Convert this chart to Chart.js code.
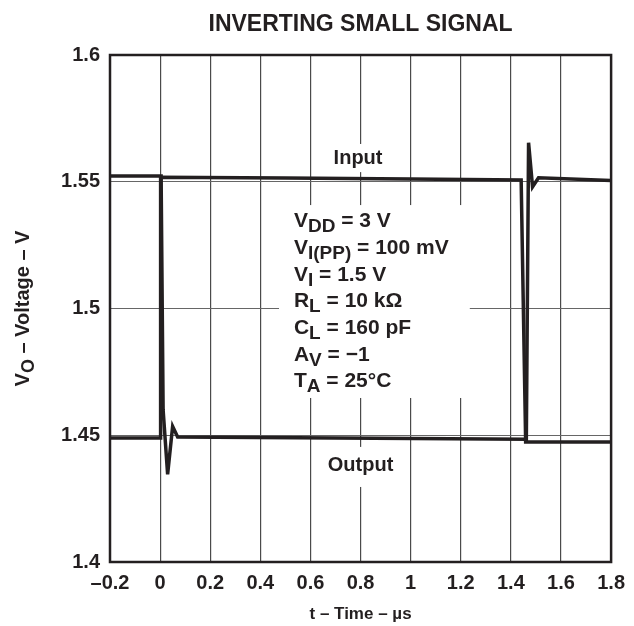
<!DOCTYPE html>
<html><head><meta charset="utf-8">
<script src="https://cdn.jsdelivr.net/npm/chart.js@4/dist/chart.umd.min.js"></script>
<style>html,body{margin:0;padding:0;background:#fff}</style>
</head><body>
<canvas id="c" width="634" height="626"></canvas>
<script>
// ---- data ----
const inputTime   = [-0.2, 0.000, 0.002, 0.5, 1.0, 1.441, 1.459, 1.8];
const inputVolts  = [1.4489, 1.4489, 1.5518, 1.5515, 1.5511, 1.5507, 1.4473, 1.4473];
const outputTime  = [-0.2, 0.004, 0.012, 0.030, 0.050, 0.070, 0.7, 1.4617, 1.4706, 1.4865, 1.5103, 1.8];
const outputVolts = [1.5523, 1.5523, 1.4600, 1.4346, 1.4535, 1.4493, 1.4489, 1.4484, 1.5654, 1.5480, 1.5516, 1.5505];
const xTickValues = [-0.2, 0, 0.2, 0.4, 0.6, 0.8, 1.0, 1.2, 1.4, 1.6, 1.8];
const yTickValues = [1.4, 1.45, 1.5, 1.55, 1.6];
const conditions = [
  [{t:'V'},{t:'DD',sub:true},{t:' = 3 V'}],
  [{t:'V'},{t:'I(PP)',sub:true},{t:' = 100 mV'}],
  [{t:'V'},{t:'I',sub:true},{t:' = 1.5 V'}],
  [{t:'R'},{t:'L',sub:true},{t:' = 10 k\u03A9'}],
  [{t:'C'},{t:'L',sub:true},{t:' = 160 pF'}],
  [{t:'A'},{t:'V',sub:true},{t:' = \u22121'}],
  [{t:'T'},{t:'A',sub:true},{t:' = 25\u00B0C'}]
];
const titleText = 'INVERTING SMALL SIGNAL';
const xTitle = [{t:'t \u2013 Time \u2013 \u00B5s'}];
const yTitle = [{t:'V'},{t:'O',sub:true},{t:' \u2013 Voltage \u2013 V'}];

const FONT = '"Liberation Sans", Arial, Helvetica, sans-serif';
const INK = '#231f20';

function toPts(xs, ys){ return xs.map((x,i)=>({x:x, y:ys[i]})); }
function fmt(v, d){ return String(parseFloat(v.toFixed(d))).replace('-', '\u2013'); }

function richWidth(ctx, parts, size, subSize){
  let w = 0;
  parts.forEach(p=>{ ctx.font = 'bold '+(p.sub?subSize:size)+'px '+FONT; w += ctx.measureText(p.t).width; });
  return w;
}
function drawRich(ctx, parts, x, y, size, subSize, align){
  let w = richWidth(ctx, parts, size, subSize);
  let cx = align==='center' ? x - w/2 : x;
  ctx.textAlign = 'left';
  ctx.textBaseline = 'alphabetic';
  parts.forEach(p=>{
    ctx.font = 'bold '+(p.sub?subSize:size)+'px '+FONT;
    ctx.fillText(p.t, cx, y + (p.sub?5:0));
    cx += ctx.measureText(p.t).width;
  });
}

const overlay = {
  id:'overlay',
  beforeDatasetsDraw(chart){
    const ctx = chart.ctx, xs = chart.scales.x, ys = chart.scales.y;
    const X = v=>xs.getPixelForValue(v), Y = v=>ys.getPixelForValue(v);
    ctx.save();
    ctx.fillStyle = '#fff';
    // white backgrounds for annotation and labels
    ctx.fillRect(X(0.4746), Y(1.5408), X(1.236)-X(0.4746), Y(1.4647)-Y(1.5408));
    ctx.fillRect(X(0.673), Y(1.5649), X(0.903)-X(0.673), Y(1.5538)-Y(1.5649));
    ctx.fillRect(X(0.653), Y(1.4454), X(0.951)-X(0.653), Y(1.4296)-Y(1.4454));
    ctx.fillStyle = INK;
    conditions.forEach((line,i)=>{
      drawRich(ctx, line, X(0.5341), Y(1.5321 - i*0.01053), 21, 19, 'left');
    });
    drawRich(ctx, [{t:'Input'}], X(0.79), Y(1.5570), 20, 18, 'center');
    drawRich(ctx, [{t:'Output'}], X(0.80), Y(1.4359), 20, 18, 'center');
    ctx.restore();
  },
  afterDatasetsDraw(chart){
    const ctx = chart.ctx, a = chart.chartArea;
    ctx.save();
    ctx.strokeStyle = INK; ctx.lineWidth = 2.5;
    ctx.strokeRect(a.left, a.top, a.right-a.left, a.bottom-a.top);
    ctx.restore();
  },
  afterDraw(chart){
    const ctx = chart.ctx, a = chart.chartArea;
    const cx = (a.left+a.right)/2, cy = (a.top+a.bottom)/2;
    ctx.save();
    ctx.fillStyle = INK;
    drawRich(ctx, [{t:titleText}], cx, 31, 23, 23, 'center');
    drawRich(ctx, xTitle, cx, 619, 17, 16, 'center');
    ctx.translate(29, cy);
    ctx.rotate(-Math.PI/2);
    drawRich(ctx, yTitle, 0, 0, 20, 18, 'center');
    ctx.restore();
  }
};

new Chart(document.getElementById('c'), {
  type:'line',
  data:{ datasets:[
    {label:'Input', data:toPts(inputTime, inputVolts), borderColor:INK, borderWidth:3.5, pointRadius:0, tension:0, fill:false},
    {label:'Output', data:toPts(outputTime, outputVolts), borderColor:INK, borderWidth:3.5, pointRadius:0, tension:0, fill:false}
  ]},
  options:{
    responsive:false, animation:false,
    layout:{padding:{top:55, right:20, left:0, bottom:0}},
    plugins:{legend:{display:false}, title:{display:false}, tooltip:{enabled:false}},
    scales:{
      x:{ type:'linear', min:-0.2, max:1.8,
        afterBuildTicks(s){ s.ticks = xTickValues.map(v=>({value:v})); },
        afterFit(s){ s.height = 64; },
        grid:{color:'#4a4a4a', lineWidth:1.2, drawTicks:false},
        border:{display:false},
        ticks:{padding:9, color:INK, font:{family:FONT, weight:'bold', size:20}, maxRotation:0, autoSkip:false,
          callback:v=>fmt(v,1)}
      },
      y:{ type:'linear', min:1.4, max:1.6,
        afterBuildTicks(s){ s.ticks = yTickValues.map(v=>({value:v})); },
        afterFit(s){ s.width = 110; },
        grid:{color:'#666', lineWidth:1, drawTicks:false},
        border:{display:false},
        ticks:{padding:10, color:INK, font:{family:FONT, weight:'bold', size:20},
          callback:v=>fmt(v,2)}
      }
    }
  },
  plugins:[overlay]
});
</script>
</body></html>
